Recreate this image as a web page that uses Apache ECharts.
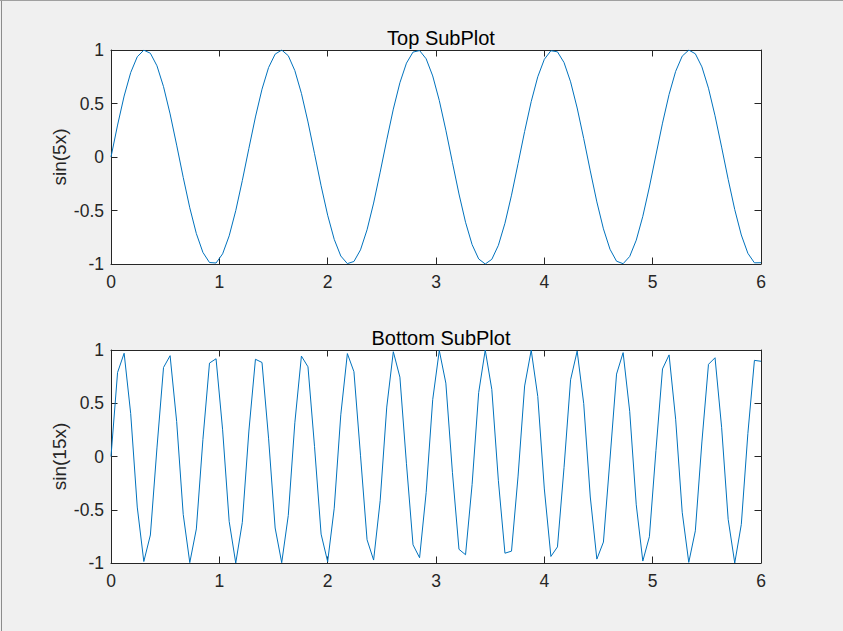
<!DOCTYPE html>
<html>
<head>
<meta charset="utf-8">
<script src="https://cdn.jsdelivr.net/npm/echarts@6/dist/echarts.min.js"></script>
<style>
html,body{margin:0;padding:0;background:#f0f0f0;}
#chart{width:843px;height:631px;}
</style>
</head>
<body>
<div id="chart"></div>
<script>
// x = sample positions (0..6, 100 samples)
var xValues = [0, 0.0606, 0.1212, 0.1818, 0.2424, 0.3030, 0.3636, 0.4242, 0.4848, 0.5455,
  0.6061, 0.6667, 0.7273, 0.7879, 0.8485, 0.9091, 0.9697, 1.0303, 1.0909, 1.1515,
  1.2121, 1.2727, 1.3333, 1.3939, 1.4545, 1.5152, 1.5758, 1.6364, 1.6970, 1.7576,
  1.8182, 1.8788, 1.9394, 2.0000, 2.0606, 2.1212, 2.1818, 2.2424, 2.3030, 2.3636,
  2.4242, 2.4848, 2.5455, 2.6061, 2.6667, 2.7273, 2.7879, 2.8485, 2.9091, 2.9697,
  3.0303, 3.0909, 3.1515, 3.2121, 3.2727, 3.3333, 3.3939, 3.4545, 3.5152, 3.5758,
  3.6364, 3.6970, 3.7576, 3.8182, 3.8788, 3.9394, 4.0000, 4.0606, 4.1212, 4.1818,
  4.2424, 4.3030, 4.3636, 4.4242, 4.4848, 4.5455, 4.6061, 4.6667, 4.7273, 4.7879,
  4.8485, 4.9091, 4.9697, 5.0303, 5.0909, 5.1515, 5.2121, 5.2727, 5.3333, 5.3939,
  5.4545, 5.5152, 5.5758, 5.6364, 5.6970, 5.7576, 5.8182, 5.8788, 5.9394, 6.0000];

// Top subplot: sin(5x)
var topValues = [0, 0.2984, 0.5696, 0.7889, 0.9364, 0.9985, 0.9696, 0.8523, 0.6574, 0.4026,
  0.1111, -0.1906, -0.4748, -0.7158, -0.8916, -0.9861, -0.9908, -0.9051, -0.7370, -0.5017,
  -0.2208, 0.0804, 0.3742, 0.6338, 0.8358, 0.9615, 0.9997, 0.9467, 0.8075, 0.5947,
  0.3277, 0.0308, -0.2689, -0.5440, -0.7696, -0.9251, -0.9963, -0.9766, -0.8680, -0.6803,
  -0.4306, -0.1416, 0.1602, 0.4475, 0.6940, 0.8772, 0.9805, 0.9945, 0.9178, 0.7575,
  0.5282, 0.2507, -0.0496, -0.3454, -0.6097, -0.8185, -0.9526, -1.0000, -0.9562, -0.8253,
  -0.6192, -0.3567, -0.0616, 0.2390, 0.5179, 0.7496, 0.9130, 0.9931, 0.9828, 0.8829,
  0.7026, 0.4582, 0.1721, -0.1297, -0.4197, -0.6714, -0.8620, -0.9740, -0.9972, -0.9296,
  -0.7773, -0.5541, -0.2805, 0.0188, 0.3163, 0.5850, 0.8003, 0.9428, 0.9993, 0.9648,
  0.8423, 0.6431, 0.3853, 0.0924, -0.2090, -0.4913, -0.7288, -0.8999, -0.9890, -0.9880];

// Bottom subplot: sin(15x)
var bottomValues = [0, 0.7889, 0.9696, 0.4026, -0.4748, -0.9861, -0.7370, 0.0804, 0.8358, 0.9467,
  0.3277, -0.5440, -0.9963, -0.6803, 0.1602, 0.8772, 0.9178, 0.2507, -0.6097, -1.0000,
  -0.6192, 0.2390, 0.9130, 0.8829, 0.1721, -0.6714, -0.9972, -0.5541, 0.3163, 0.9428,
  0.8423, 0.0924, -0.7288, -0.9880, -0.4854, 0.3915, 0.9665, 0.7963, 0.0121, -0.7815,
  -0.9724, -0.4136, 0.4642, 0.9840, 0.7451, -0.0683, -0.8291, -0.9506, -0.3391, 0.5339,
  0.9952, 0.6891, -0.1483, -0.8713, -0.9225, -0.2624, 0.6001, 0.9998, 0.6286, -0.2273,
  -0.9080, -0.8885, -0.1840, 0.6624, 0.9981, 0.5641, -0.3048, -0.9387, -0.8488, -0.1044,
  0.7205, 0.9898, 0.4959, -0.3804, -0.9634, -0.8035, -0.0241, 0.7739, 0.9752, 0.4245,
  -0.4535, -0.9818, -0.7531, 0.0563, 0.8223, 0.9542, 0.3504, -0.5236, -0.9939, -0.6978,
  0.1363, 0.8654, 0.9271, 0.2740, -0.5904, -0.9996, -0.6380, 0.2155, 0.9028, 0.8940];

var titles = ['Top SubPlot', 'Bottom SubPlot'];
var yNames = ['sin(5x)', 'sin(15x)'];

var FONT = '"Liberation Sans", Arial, Helvetica, sans-serif';
var AX = '#262626';
var LINE = '#0072BD';

function pairs(xs, ys) {
  var out = [];
  for (var i = 0; i < xs.length; i++) out.push([xs[i], ys[i]]);
  return out;
}

var grids = [
  {left: 111, top: 50, width: 650, height: 214},
  {left: 111, top: 350, width: 650, height: 213}
];

var xAxes = [], yAxes = [];
grids.forEach(function (g, gi) {
  g.show = true;
  g.backgroundColor = '#ffffff';
  g.borderWidth = 0;
  g.containLabel = false;
  ['bottom', 'top'].forEach(function (pos) {
    xAxes.push({
      gridIndex: gi, type: 'value', position: pos, min: 0, max: 6, interval: 1,
      axisLine: {show: true, onZero: false, lineStyle: {color: AX, width: 1}},
      axisTick: {show: true, inside: true, length: 6.5, lineStyle: {color: AX, width: 1}},
      splitLine: {show: false},
      axisLabel: {show: pos === 'bottom', color: AX, fontSize: 17.5, fontFamily: FONT, margin: 9}
    });
  });
  ['left', 'right'].forEach(function (pos) {
    yAxes.push({
      gridIndex: gi, type: 'value', position: pos, min: -1, max: 1, interval: 0.5,
      name: pos === 'left' ? yNames[gi] : '',
      nameLocation: 'middle', nameRotate: 90, nameGap: 42, nameMoveOverlap: false,
      nameTextStyle: {color: AX, fontSize: 19, fontFamily: FONT},
      axisLine: {show: true, onZero: false, lineStyle: {color: AX, width: 1}},
      axisTick: {show: true, inside: true, length: 6.5, lineStyle: {color: AX, width: 1}},
      splitLine: {show: false},
      axisLabel: {show: pos === 'left', color: AX, fontSize: 17.5, fontFamily: FONT, margin: 7}
    });
  });
});

var chart = echarts.init(document.getElementById('chart'), null, {renderer: 'svg'});
chart.setOption({
  animation: false,
  backgroundColor: '#f0f0f0',
  grid: grids,
  xAxis: xAxes,
  yAxis: yAxes,
  title: [
    {text: titles[0], left: 436, top: 23, textAlign: 'center',
     textStyle: {color: '#000', fontSize: 20, fontWeight: 'normal', fontFamily: FONT}},
    {text: titles[1], left: 436, top: 323, textAlign: 'center',
     textStyle: {color: '#000', fontSize: 20, fontWeight: 'normal', fontFamily: FONT}}
  ],
  graphic: [
    {type: 'line', shape: {x1: 1.5, y1: 0, x2: 1.5, y2: 631}, style: {stroke: '#8c8c8c', lineWidth: 1}},
    {type: 'line', shape: {x1: 0, y1: 0.5, x2: 843, y2: 0.5}, style: {stroke: '#a0a0a0', lineWidth: 1}}
  ],
  series: [
    {type: 'line', xAxisIndex: 0, yAxisIndex: 0, data: pairs(xValues, topValues),
     showSymbol: false, symbol: 'none', lineStyle: {color: LINE, width: 1}, itemStyle: {color: LINE}},
    {type: 'line', xAxisIndex: 2, yAxisIndex: 2, data: pairs(xValues, bottomValues),
     showSymbol: false, symbol: 'none', lineStyle: {color: LINE, width: 1}, itemStyle: {color: LINE}}
  ]
});
</script>
</body>
</html>
